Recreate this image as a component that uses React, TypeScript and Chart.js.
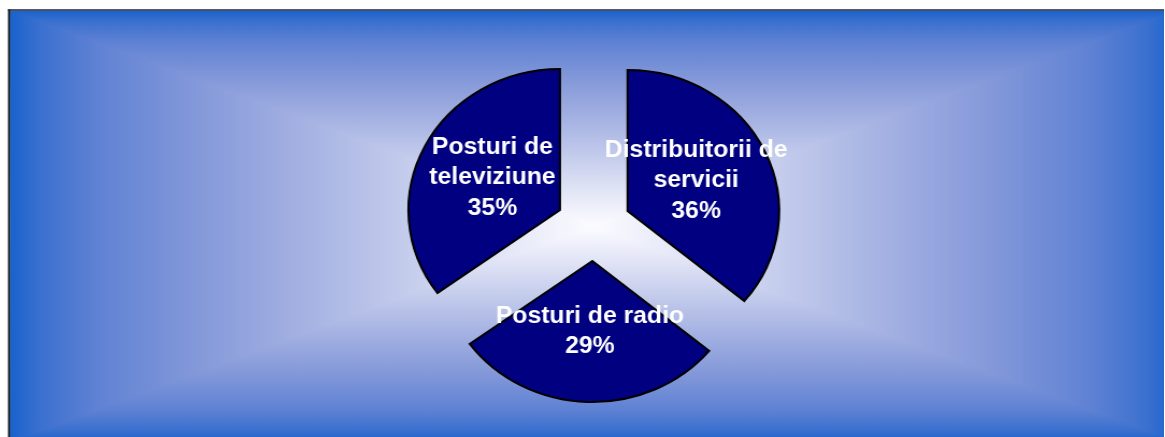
import { useEffect, useRef } from "react";
import { Chart, registerables } from "chart.js";

Chart.register(...registerables);

// ---- data ----
const categories = ["Distribuitorii de servicii", "Posturi de radio", "Posturi de televiziune"];
const labelLines = [["Distribuitorii de", "servicii"], ["Posturi de radio"], ["Posturi de", "televiziune"]];
const shares = [36, 29, 35];

// ---- layout / style ----
const SX = 1.075; // horizontal stretch of the original picture
const W = 1083;
const H = 437;
const EXPLODE = 35;
const RADIUS = 141;

const gradStops: [number, string][] = [
  [0, "rgb(25,98,205)"],
  [0.05, "rgb(58,112,207)"],
  [0.15, "rgb(96,130,212)"],
  [0.33, "rgb(134,154,218)"],
  [0.5, "rgb(164,177,226)"],
  [0.67, "rgb(195,203,236)"],
  [0.84, "rgb(226,229,246)"],
  [1, "rgb(252,252,255)"],
];

const bgPlugin = {
  id: "bgPlugin",
  beforeDraw(chart: any) {
    const ctx: CanvasRenderingContext2D = chart.ctx;
    const x0 = 9.3, x1 = 1095, y0 = 10.5, y1 = 441.5;
    const cx = (x0 + x1) / 2, cy = (y0 + y1) / 2;
    ctx.save();
    // vertical (top/bottom) part over whole rect
    const gv = ctx.createLinearGradient(0, y0, 0, y1);
    gradStops.forEach(([s, c]) => gv.addColorStop(s / 2, c));
    [...gradStops].reverse().forEach(([s, c]) => gv.addColorStop(1 - s / 2, c));
    ctx.fillStyle = gv;
    ctx.fillRect(x0, y0, x1 - x0, y1 - y0);
    // left triangle
    const gl = ctx.createLinearGradient(x0, 0, cx, 0);
    gradStops.forEach(([s, c]) => gl.addColorStop(s, c));
    ctx.fillStyle = gl;
    ctx.beginPath();
    ctx.moveTo(x0, y0);
    ctx.lineTo(cx, cy);
    ctx.lineTo(x0, y1);
    ctx.closePath();
    ctx.fill();
    // right triangle
    const gr = ctx.createLinearGradient(x1, 0, cx, 0);
    gradStops.forEach(([s, c]) => gr.addColorStop(s, c));
    ctx.fillStyle = gr;
    ctx.beginPath();
    ctx.moveTo(x1, y0);
    ctx.lineTo(cx, cy);
    ctx.lineTo(x1, y1);
    ctx.closePath();
    ctx.fill();
    // frame
    ctx.fillStyle = "#151515";
    ctx.fillRect(7.45, 9.3, 1.9, H);
    ctx.fillRect(7.45, 9.3, W, 1.3);
    ctx.restore();
  },
};

const explodePlugin = {
  id: "explodePlugin",
  afterDatasetUpdate(chart: any, args: any) {
    const meta = chart.getDatasetMeta(args.index);
    meta.data.forEach((arc: any) => {
      const mid = (arc.startAngle + arc.endAngle) / 2;
      arc.x += Math.cos(mid) * EXPLODE;
      arc.y += Math.sin(mid) * EXPLODE;
    });
  },
};

const labelPlugin = {
  id: "labelPlugin",
  afterDatasetsDraw(chart: any) {
    const ctx: CanvasRenderingContext2D = chart.ctx;
    const meta = chart.getDatasetMeta(0);
    ctx.save();
    ctx.fillStyle = "#ffffff";
    ctx.font = 'bold 23px "Liberation Sans", Arial, sans-serif';
    ctx.textAlign = "center";
    ctx.textBaseline = "middle";
    const lh = 30.5;
    meta.data.forEach((arc: any, i: number) => {
      const mid = (arc.startAngle + arc.endAngle) / 2;
      const r = arc.outerRadius * 0.5;
      const x = arc.x + Math.cos(mid) * r;
      const y = arc.y + Math.sin(mid) * r;
      const lines = [...labelLines[i], `${shares[i]}%`];
      lines.forEach((t, j) => {
        ctx.fillText(t, x, y + (j - (lines.length - 1) / 2) * lh);
      });
    });
    ctx.restore();
  },
};

export default function App() {
  const ref = useRef<HTMLCanvasElement>(null);
  useEffect(() => {
    if (!ref.current) return;
    const chart = new Chart(ref.current, {
      type: "pie",
      data: {
        labels: categories,
        datasets: [
          {
            data: shares,
            backgroundColor: "#000080",
            borderColor: "#000000",
            borderWidth: 2,
            borderJoinStyle: "miter",
            radius: RADIUS,
          } as any,
        ],
      },
      options: {
        animation: false,
        responsive: false,
        events: [],
        layout: { padding: { left: 21.2, right: 0, top: 15, bottom: 0 } },
        plugins: {
          legend: { display: false },
          tooltip: { enabled: false },
        },
      } as any,
      plugins: [bgPlugin, explodePlugin, labelPlugin],
    });
    return () => chart.destroy();
  }, []);
  return (
    <div
      style={{
        position: "absolute",
        left: 0,
        top: 0,
        width: W,
        height: H,
        transform: `scaleX(${SX})`,
        transformOrigin: "0 0",
      }}
    >
      <canvas ref={ref} width={W} height={H} style={{ display: "block", width: W, height: H }} />
    </div>
  );
}
